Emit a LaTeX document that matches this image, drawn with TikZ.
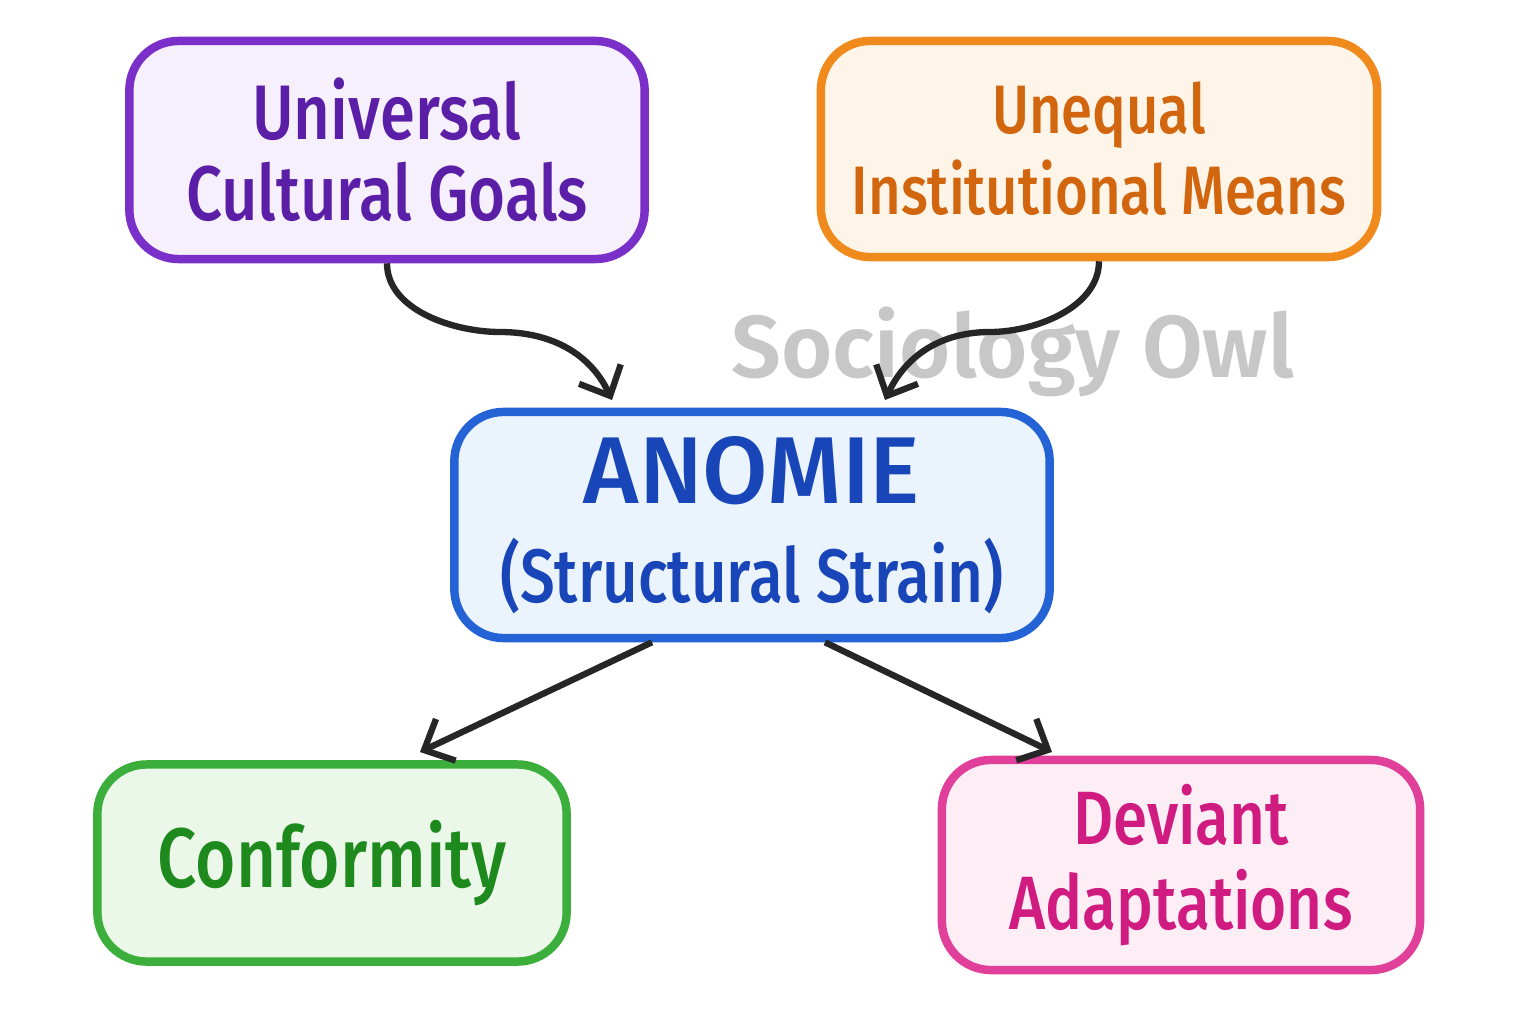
\documentclass[tikz,border=0pt]{standalone}
\usepackage{fontspec}
\setmainfont{Fira Sans Medium}[FakeStretch=0.82]
\newfontfamily\headfont{Fira Sans Medium}
\newfontfamily\markfont{Fira Sans SemiBold}
\usetikzlibrary{arrows.meta,positioning}

\definecolor{goalline}{HTML}{7B2FC9}
\definecolor{goaltext}{HTML}{5A1FA6}
\definecolor{goalfill}{HTML}{F6EFFC}
\definecolor{meanline}{HTML}{F08A1C}
\definecolor{meantext}{HTML}{D2660F}
\definecolor{meanfill}{HTML}{FEF5E8}
\definecolor{anomline}{HTML}{2463D6}
\definecolor{anomtext}{HTML}{1846B8}
\definecolor{anomfill}{HTML}{EBF3FD}
\definecolor{confline}{HTML}{3BAE3B}
\definecolor{conftext}{HTML}{1E8A1E}
\definecolor{conffill}{HTML}{EBF8E9}
\definecolor{devline}{HTML}{E0409A}
\definecolor{devtext}{HTML}{D01C80}
\definecolor{devfill}{HTML}{FDEEF6}

\tikzset{
  box/.style={draw, line width=2.4pt, rounded corners=14pt, align=center,
    inner sep=0pt},
  link/.style={draw=black!85, line width=1.8pt,
    -{Straight Barb[length=2.4mm,width=4.6mm]}},
}

\begin{document}
\begin{tikzpicture}[x=0.01cm, y=-0.01cm]
  \useasboundingbox[fill=white] (0,0) rectangle (1536,1024);

  % top row
  \node[box, draw=goalline, fill=goalfill, text=goaltext,
    font=\fontsize{22}{23}\selectfont,
    minimum width=5.15cm, minimum height=2.18cm] (goals) at (387,150)
    {Universal\\Cultural Goals};
  \node[box, draw=meanline, fill=meanfill, text=meantext,
    font=\fontsize{19.5}{23}\selectfont,
    minimum width=5.56cm, minimum height=2.16cm] (means) at (1099,149)
    {Unequal\\Institutional Means};

  % watermark
  \node[text=black!22, font=\markfont\fontsize{25}{25}\selectfont] (mark) at (1013,352)
    {Sociology Owl};

  % middle
  \node[box, draw=anomline, fill=anomfill, text=anomtext,
    font=\fontsize{21.5}{24}\selectfont,
    minimum width=5.95cm, minimum height=2.26cm] (anomie) at (752,525)
    {{\headfont\fontsize{27}{27}\selectfont ANOMIE}\\[4pt](Structural Strain)};

  % bottom row
  \node[box, draw=confline, fill=conffill, text=conftext,
    font=\fontsize{24}{24}\selectfont,
    minimum width=4.69cm, minimum height=1.97cm] (conf) at (332,863)
    {Conformity};
  \node[box, draw=devline, fill=devfill, text=devtext,
    font=\fontsize{21.5}{24}\selectfont,
    minimum width=4.78cm, minimum height=2.1cm] (dev) at (1181,865)
    {Deviant\\Adaptations};

  \coordinate (goalsin) at (612,400);
  \coordinate (meansin) at (885,400);
  \coordinate (confin) at (420,752);
  \coordinate (devin) at (1052,752);

  \draw[link] (goals.south) to[out=-90,in=180,looseness=0.9] (500,332)
    to[out=0,in=115] (goalsin);
  \draw[link] (means.south) to[out=-90,in=0,looseness=0.9] (990,332)
    to[out=180,in=65] (meansin);
  \draw[link] ([xshift=-1cm]anomie.south) -- (confin);
  \draw[link] ([xshift=0.73cm]anomie.south) -- (devin);
\end{tikzpicture}
\end{document}
